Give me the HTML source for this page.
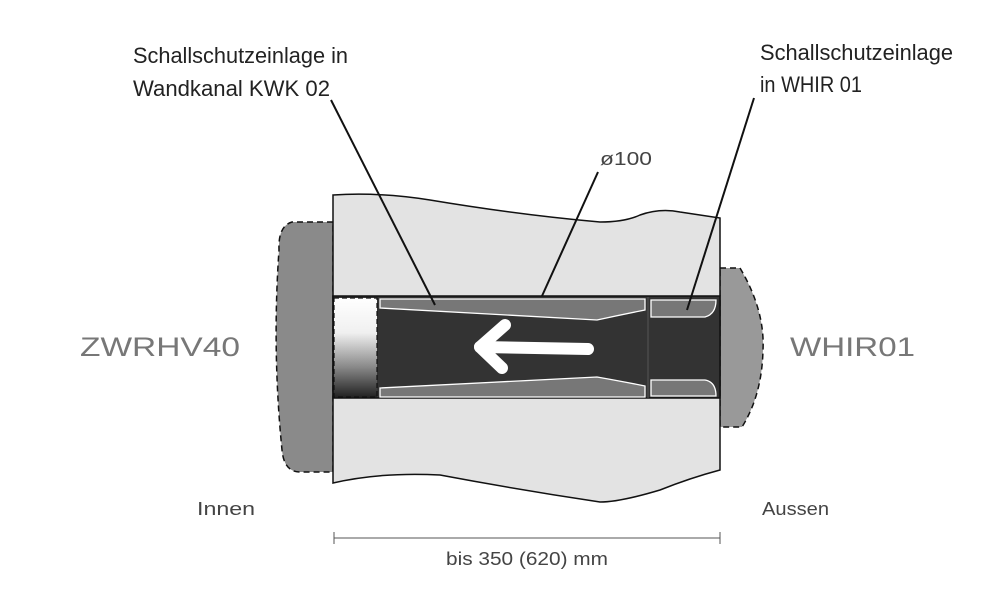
<!DOCTYPE html>
<html><head><meta charset="utf-8"><style>body{margin:0;background:#fff}svg{display:block}</style></head>
<body>
<svg width="1000" height="615" viewBox="0 0 1000 615" xmlns="http://www.w3.org/2000/svg" font-family="Liberation Sans, sans-serif">
<defs>
<linearGradient id="g" x1="0" y1="0" x2="0" y2="1">
<stop offset="0" stop-color="#fff"/><stop offset="0.35" stop-color="#f0f0f0"/><stop offset="0.7" stop-color="#888"/><stop offset="1" stop-color="#222"/>
</linearGradient>
</defs>
<!-- left cap -->
<path d="M333 222 L292 222 Q278 226 279 250 Q272 350 282 450 Q284 472 300 472 L333 472 Z" fill="#8a8a8a" stroke="#111" stroke-width="1.5" stroke-dasharray="6,4"/>
<!-- right cap -->
<path d="M720 268 L740 268 Q765 310 763 350 Q762 395 742 427 L720 427 Z" fill="#999" stroke="#111" stroke-width="1.5" stroke-dasharray="6,4"/>
<!-- wall -->
<path d="M333 195 Q380 192 430 200 Q520 215 600 222 Q625 222 640 215 Q660 208 680 212 L720 218 L720 470 Q690 478 660 490 Q620 502 600 502 Q520 490 440 475 Q380 472 333 483 Z" fill="#e3e3e3" stroke="#111" stroke-width="1.5"/>
<!-- tube -->
<rect x="333" y="296" width="387" height="102" fill="#333" stroke="#111" stroke-width="1.5"/>
<rect x="334" y="298" width="43" height="99" fill="url(#g)" stroke="#111" stroke-width="1.2" stroke-dasharray="5,3"/>
<!-- strips left insert -->
<path d="M380 299 L645 299 L645 310 Q620 315 597 320 L380 308 Z" fill="#777" stroke="#fff" stroke-width="1.3"/>
<path d="M380 397 L645 397 L645 386 Q620 381 597 377 L380 388 Z" fill="#777" stroke="#fff" stroke-width="1.3"/>
<line x1="648" y1="297" x2="648" y2="398" stroke="#555" stroke-width="1"/>
<!-- right strips -->
<path d="M651 300 L716 300 Q716 314 705 317 L651 317 Z" fill="#777" stroke="#fff" stroke-width="1.3"/>
<path d="M651 396 L716 396 Q716 382 705 380 L651 380 Z" fill="#777" stroke="#fff" stroke-width="1.3"/>
<!-- arrow -->
<g stroke="#fff" stroke-width="12" stroke-linecap="round" stroke-linejoin="round" fill="none">
<line x1="588" y1="349" x2="480" y2="347"/>
<polyline points="505,325 480,347 502,368"/>
</g>
<!-- leader lines -->
<g stroke="#111" stroke-width="2">
<line x1="331" y1="100" x2="435" y2="305"/>
<line x1="598" y1="172" x2="542" y2="296"/>
<line x1="754" y1="98" x2="687" y2="310"/>
</g>
<!-- dimension -->
<g stroke="#555" stroke-width="1">
<line x1="334" y1="538" x2="720" y2="538"/>
<line x1="334" y1="532" x2="334" y2="544"/>
<line x1="720" y1="532" x2="720" y2="544"/>
</g>
<g fill="#222" font-size="22">
<text x="133" y="63" textLength="215" lengthAdjust="spacingAndGlyphs">Schallschutzeinlage in</text>
<text x="133" y="96" textLength="197" lengthAdjust="spacingAndGlyphs">Wandkanal KWK 02</text>
<text x="760" y="60" textLength="193" lengthAdjust="spacingAndGlyphs">Schallschutzeinlage</text>
<text x="760" y="92" textLength="102" lengthAdjust="spacingAndGlyphs">in WHIR 01</text>
</g>
<g fill="#444" font-size="18">
<text x="600" y="165" textLength="52" lengthAdjust="spacingAndGlyphs">ø100</text>
<text x="197" y="515" textLength="58" lengthAdjust="spacingAndGlyphs">Innen</text>
<text x="762" y="515" textLength="67" lengthAdjust="spacingAndGlyphs">Aussen</text>
<text x="446" y="565" textLength="162" lengthAdjust="spacingAndGlyphs">bis 350 (620) mm</text>
</g>
<g fill="#777" font-size="27">
<text x="80" y="356" textLength="160" lengthAdjust="spacingAndGlyphs">ZWRHV40</text>
<text x="790" y="356" textLength="125" lengthAdjust="spacingAndGlyphs">WHIR01</text>
</g>
</svg>
</body></html>
